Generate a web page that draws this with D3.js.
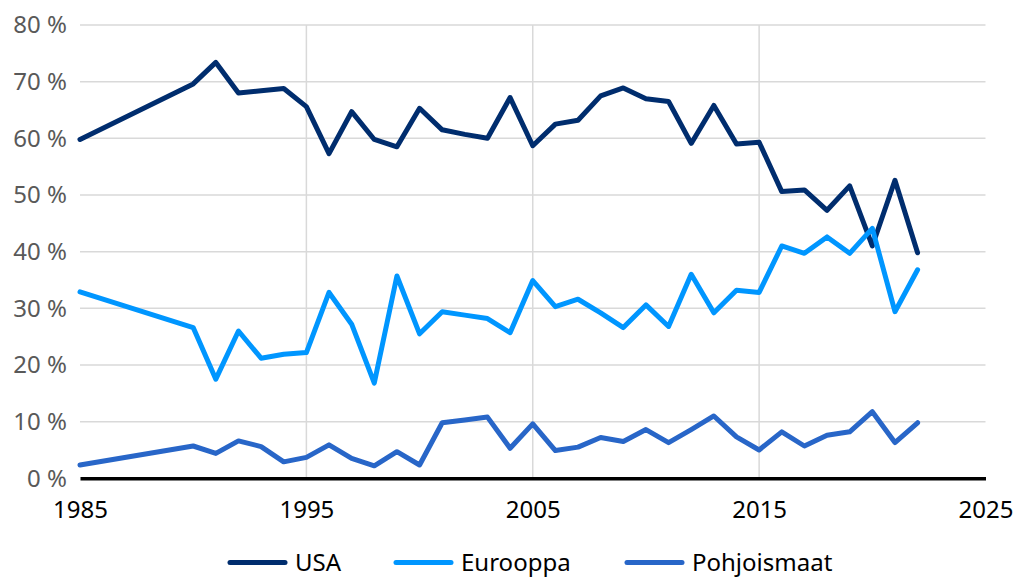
<!DOCTYPE html>
<html>
<head>
<meta charset="utf-8">
<script src="https://cdn.jsdelivr.net/npm/d3@7"></script>
<style>
  html, body { margin: 0; padding: 0; background: #fff; }
  svg { display: block; font-family: "Noto Sans", "Open Sans", sans-serif; }
</style>
</head>
<body>
<svg id="chart" width="1023" height="578"></svg>
<script>
const years = [1985, 1990, 1991, 1992, 1993, 1994, 1995, 1996, 1997, 1998, 1999, 2000,
  2001, 2002, 2003, 2004, 2005, 2006, 2007, 2008, 2009, 2010, 2011, 2012, 2013, 2014,
  2015, 2016, 2017, 2018, 2019, 2020, 2021, 2022];
const usa = [59.8, 69.6, 73.4, 68.0, 68.4, 68.8, 65.6, 57.3, 64.7, 59.8, 58.5, 65.3,
  61.5, 60.7, 60.0, 67.2, 58.7, 62.5, 63.2, 67.5, 68.9, 67.0, 66.5, 59.1, 65.8, 59.0,
  59.3, 50.6, 50.9, 47.3, 51.6, 41.0, 52.6, 39.8];
const eurooppa = [32.9, 26.6, 17.5, 26.0, 21.2, 21.9, 22.2, 32.8, 27.2, 16.8, 35.7, 25.5,
  29.4, 28.8, 28.2, 25.7, 34.9, 30.3, 31.6, 29.2, 26.6, 30.6, 26.8, 36.0, 29.2, 33.2,
  32.8, 41.0, 39.7, 42.6, 39.7, 44.1, 29.4, 36.8];
const pohjoismaat = [2.35, 5.7, 4.4, 6.6, 5.6, 2.9, 3.7, 5.9, 3.5, 2.2, 4.7, 2.35,
  9.8, 10.3, 10.8, 5.3, 9.6, 4.9, 5.5, 7.2, 6.5, 8.6, 6.3, 8.6, 11.0, 7.3,
  5.0, 8.2, 5.7, 7.6, 8.2, 11.75, 6.3, 9.8];
const xTicks = [1985, 1995, 2005, 2015, 2025];
const yTicks = [0, 10, 20, 30, 40, 50, 60, 70, 80];
const seriesNames = ["USA", "Eurooppa", "Pohjoismaat"];
const seriesColors = ["#002D6E", "#0096FF", "#2866C8"];

const series = [usa, eurooppa, pohjoismaat].map((vals, i) => ({
  name: seriesNames[i], color: seriesColors[i],
  values: years.map((yr, j) => ({ year: yr, v: vals[j] }))
}));

const svg = d3.select("#chart");
const pLeft = 80, pRight = 985.5, pTop = 25, pBottom = 478.3;
const x = d3.scaleLinear().domain([1985, 2025]).range([pLeft, pRight]);
const y = d3.scaleLinear().domain([0, 80]).range([pBottom, pTop]);

// horizontal gridlines
svg.append("g").selectAll("line").data(yTicks.filter(d => d > 0)).join("line")
  .attr("x1", pLeft).attr("x2", pRight)
  .attr("y1", d => y(d)).attr("y2", d => y(d))
  .attr("stroke", "#d9d9d9").attr("stroke-width", 1.5);

// vertical gridlines
svg.append("g").selectAll("line").data(xTicks.filter(d => d > 1985 && d < 2025)).join("line")
  .attr("x1", d => x(d)).attr("x2", d => x(d))
  .attr("y1", pTop).attr("y2", pBottom)
  .attr("stroke", "#d9d9d9").attr("stroke-width", 1.5);

// y labels
svg.append("g").selectAll("text").data(yTicks).join("text")
  .attr("x", 67).attr("y", d => y(d))
  .attr("dy", "0.35em")
  .attr("text-anchor", "end")
  .attr("fill", "#595959")
  .attr("font-size", 24)
  .text(d => d + " %");

// x axis
const xAxis = d3.axisBottom(x).tickValues(xTicks).tickFormat(d3.format("d")).tickSize(0).tickPadding(23);
const gx = svg.append("g").attr("transform", `translate(0,${pBottom})`).call(xAxis);
gx.select(".domain").attr("stroke", "#000").attr("stroke-width", 3.5);
gx.selectAll("text").attr("font-size", 24).attr("fill", "#000")
  .attr("font-family", "'Noto Sans', 'Open Sans', sans-serif");

// lines
const line = d3.line().x(d => x(d.year)).y(d => y(d.v));
svg.append("g").selectAll("path").data(series).join("path")
  .attr("d", d => line(d.values))
  .attr("fill", "none")
  .attr("stroke", d => d.color)
  .attr("stroke-width", 5)
  .attr("stroke-linejoin", "round")
  .attr("stroke-linecap", "round");

// legend
const legendX = [230, 396, 627];
const legendY = 562.5;
const lg = svg.append("g").selectAll("g").data(series).join("g")
  .attr("transform", (d, i) => `translate(${legendX[i]},${legendY})`);
lg.append("line").attr("x1", 0).attr("x2", 55).attr("y1", 0).attr("y2", 0)
  .attr("stroke", d => d.color).attr("stroke-width", 5).attr("stroke-linecap", "round");
lg.append("text").attr("x", 65).attr("y", 0).attr("dy", "0.35em")
  .attr("font-size", 24).attr("fill", "#000").text(d => d.name);
</script>
</body>
</html>
